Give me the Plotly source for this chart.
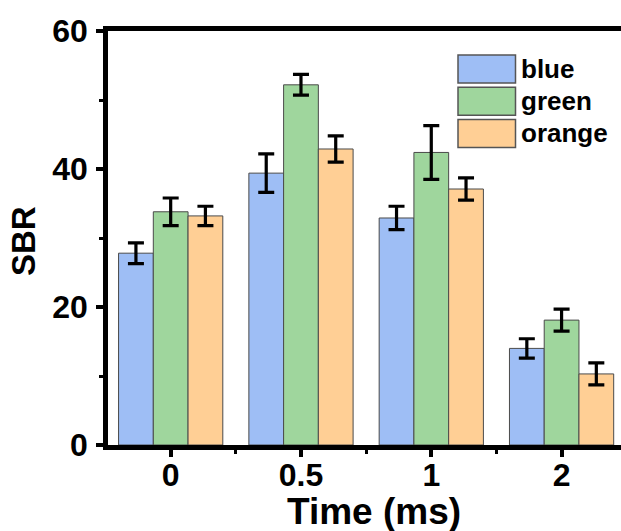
import plotly.graph_objects as go

# SBR measured at each pulse time, per colour channel (mean ± error)
times = ["0", "0.5", "1", "2"]
series_names = ["blue", "green", "orange"]
blue_vals = [27.8, 39.4, 32.9, 14.0]
blue_err = [1.5, 2.8, 1.7, 1.4]
green_vals = [33.8, 52.2, 42.4, 18.1]
green_err = [2.0, 1.5, 3.9, 1.6]
orange_vals = [33.2, 42.9, 37.1, 10.3]
orange_err = [1.4, 1.9, 1.6, 1.6]
y_ticks = [0, 20, 40, 60]
y_minor = [10, 30, 50]

fills = ["#9EBEF5", "#9FD69D", "#FFCF95"]
values = [blue_vals, green_vals, orange_vals]
errors = [blue_err, green_err, orange_err]

FONT = "Liberation Sans, Arial, sans-serif"
W, H = 621, 531
L, R, T, B = 108, 0, 31, 86
PW, PH = W - L - R, H - T - B

x_pos = list(range(len(times)))

fig = go.Figure()
for name, col, v, e in zip(series_names, fills, values, errors):
    fig.add_trace(go.Bar(
        x=x_pos, y=v, name=name,
        marker=dict(color=col, line=dict(color="#4a4a4a", width=1)),
        error_y=dict(type="data", array=e, visible=True,
                     color="black", thickness=3.2, width=8),
        showlegend=False,
    ))

# legend box with large swatches, placed in pixel terms
def px_x(px):
    return (px - L) / PW

def px_y(py):
    return (H - B - py) / PH

shapes = []
annotations = []
sw_left, sw_right = 458, 515.5
sw_top0, sw_h, sw_step = 55, 28, 32.2
for i, (name, col) in enumerate(zip(series_names, fills)):
    top = sw_top0 + i * sw_step
    shapes.append(dict(
        type="rect", xref="paper", yref="paper",
        x0=px_x(sw_left), x1=px_x(sw_right),
        y0=px_y(top + sw_h), y1=px_y(top),
        fillcolor=col, line=dict(color="#555555", width=1.5),
    ))
    annotations.append(dict(
        xref="paper", yref="paper", x=px_x(519), y=px_y(top + sw_h / 2),
        text=f"<b>{name}</b>", showarrow=False, xanchor="left", yanchor="middle",
        font=dict(family=FONT, size=26, color="black"),
    ))

# axis titles
annotations.append(dict(
    xref="paper", yref="paper", x=px_x(374), y=px_y(511),
    text="<b>Time (ms)</b>", showarrow=False, xanchor="center", yanchor="middle",
    font=dict(family=FONT, size=37, color="black"),
))
annotations.append(dict(
    xref="paper", yref="paper", x=px_x(23), y=px_y(241),
    text="<b>SBR</b>", showarrow=False, xanchor="center", yanchor="middle",
    textangle=-90, font=dict(family=FONT, size=33, color="black"),
))

fig.update_layout(
    width=W, height=H,
    margin=dict(l=L, r=R, t=T, b=B, pad=0),
    paper_bgcolor="white", plot_bgcolor="white",
    barmode="group", bargap=0.2, bargroupgap=0,
    shapes=shapes, annotations=annotations,
    font=dict(family=FONT, color="black"),
    xaxis=dict(
        range=[-0.481, 3.456],
        tickvals=x_pos, ticktext=[f"<b>{t}</b>" for t in times],
        tickfont=dict(family=FONT, size=32, color="black"),
        ticklabelstandoff=-9,
        showline=True, linecolor="black", linewidth=4.5, mirror=True,
        ticks="outside", ticklen=7, tickwidth=4, tickcolor="black",
        minor=dict(tickvals=[0.5, 1.5, 2.5], ticks="outside", ticklen=4,
                   tickwidth=3, tickcolor="black"),
        showgrid=False, zeroline=False,
    ),
    yaxis=dict(
        range=[0, 60],
        tickvals=y_ticks, ticktext=[f"<b>{t}</b>" for t in y_ticks],
        tickfont=dict(family=FONT, size=32, color="black"),
        ticklabelstandoff=2,
        showline=True, linecolor="black", linewidth=4.5, mirror=False,
        ticks="outside", ticklen=7, tickwidth=4, tickcolor="black",
        minor=dict(tickvals=y_minor, ticks="outside", ticklen=4,
                   tickwidth=3, tickcolor="black"),
        showgrid=False, zeroline=False,
    ),
)

fig.write_html("out.html")
